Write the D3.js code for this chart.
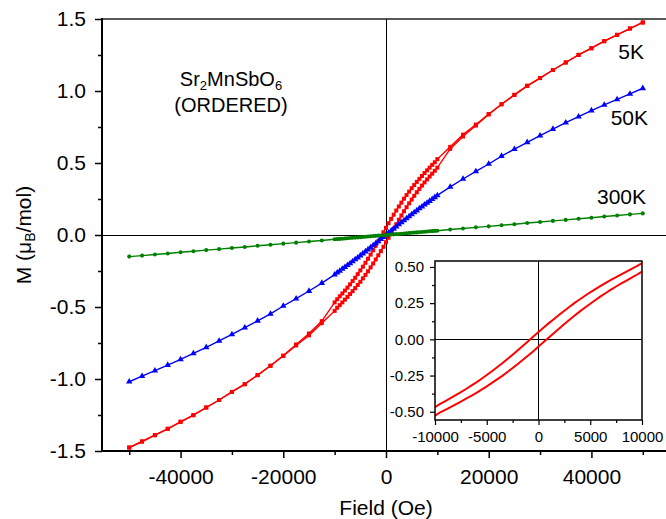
<!DOCTYPE html>
<html>
<head>
<meta charset="utf-8">
<script src="https://cdn.jsdelivr.net/npm/d3@7"></script>
<style>
  body { margin: 0; background: white; }
  text { font-family: "Liberation Sans", Arial, sans-serif; fill: black; }
</style>
</head>
<body>
<div id="chart"></div>
<script>
// Field values (Oe), shared by all curves
const field = [-50000, -47500, -45000, -42500, -40000, -37500, -35000, -32500, -30000, -27500, -25000, -22500, -20000, -17500, -15000, -12500, -10000,
  -9500, -9000, -8500, -8000, -7500, -7000, -6500, -6000, -5500, -5000, -4500, -4000, -3500, -3000, -2500, -2000, -1500, -1000, -500, 0,
  500, 1000, 1500, 2000, 2500, 3000, 3500, 4000, 4500, 5000, 5500, 6000, 6500, 7000, 7500, 8000, 8500, 9000, 9500,
  10000, 12500, 15000, 17500, 20000, 22500, 25000, 27500, 30000, 32500, 35000, 37500, 40000, 42500, 45000, 47500, 50000];

// 5K loop, branch coming down from +50 kOe
const m5Kdown = [-1.476, -1.434, -1.390, -1.346, -1.297, -1.251, -1.198, -1.146, -1.090, -1.036, -0.973, -0.908, -0.837, -0.760, -0.684, -0.598, -0.468,
  -0.446, -0.426, -0.406, -0.386, -0.365, -0.343, -0.320, -0.297, -0.272, -0.246, -0.220, -0.193, -0.165, -0.136, -0.106, -0.075, -0.044, -0.013, 0.019, 0.050,
  0.082, 0.112, 0.141, 0.170, 0.198, 0.225, 0.252, 0.277, 0.301, 0.325, 0.347, 0.369, 0.390, 0.410, 0.430, 0.449, 0.468, 0.487, 0.505,
  0.527, 0.612, 0.697, 0.767, 0.840, 0.908, 0.973, 1.036, 1.090, 1.146, 1.198, 1.251, 1.297, 1.346, 1.390, 1.434, 1.476];

// 5K loop, branch going up from -50 kOe
const m5Kup = [-1.476, -1.434, -1.390, -1.346, -1.297, -1.251, -1.198, -1.146, -1.090, -1.036, -0.973, -0.908, -0.840, -0.767, -0.697, -0.612, -0.527,
  -0.505, -0.487, -0.468, -0.449, -0.430, -0.410, -0.390, -0.369, -0.347, -0.325, -0.301, -0.277, -0.252, -0.225, -0.198, -0.170, -0.141, -0.112, -0.082, -0.050,
  -0.019, 0.013, 0.044, 0.075, 0.106, 0.136, 0.165, 0.193, 0.220, 0.246, 0.272, 0.297, 0.320, 0.343, 0.365, 0.386, 0.406, 0.426, 0.446,
  0.468, 0.598, 0.684, 0.760, 0.837, 0.908, 0.973, 1.036, 1.090, 1.146, 1.198, 1.251, 1.297, 1.346, 1.390, 1.434, 1.476];

const m50K = [-1.019, -0.980, -0.942, -0.903, -0.864, -0.822, -0.780, -0.736, -0.690, -0.644, -0.596, -0.548, -0.493, -0.442, -0.389, -0.334, -0.275,
  -0.262, -0.249, -0.236, -0.223, -0.210, -0.197, -0.184, -0.170, -0.157, -0.143, -0.129, -0.115, -0.101, -0.087, -0.073, -0.058, -0.044, -0.029, -0.015, 0.000,
  0.015, 0.029, 0.044, 0.058, 0.073, 0.087, 0.101, 0.115, 0.129, 0.143, 0.157, 0.170, 0.184, 0.197, 0.210, 0.223, 0.236, 0.249, 0.262,
  0.275, 0.334, 0.389, 0.442, 0.493, 0.548, 0.596, 0.644, 0.690, 0.736, 0.780, 0.822, 0.864, 0.903, 0.942, 0.980, 1.019];

const m300K = [-0.150, -0.143, -0.135, -0.128, -0.120, -0.113, -0.105, -0.098, -0.090, -0.083, -0.075, -0.068, -0.060, -0.053, -0.045, -0.038, -0.030,
  -0.0285, -0.027, -0.0255, -0.024, -0.0225, -0.021, -0.0195, -0.018, -0.0165, -0.015, -0.0135, -0.012, -0.0105, -0.009, -0.0075, -0.006, -0.0045, -0.003, -0.0015, 0,
  0.0015, 0.003, 0.0045, 0.006, 0.0075, 0.009, 0.0105, 0.012, 0.0135, 0.015, 0.0165, 0.018, 0.0195, 0.021, 0.0225, 0.024, 0.0255, 0.027, 0.0285,
  0.030, 0.038, 0.045, 0.053, 0.060, 0.068, 0.075, 0.083, 0.090, 0.098, 0.105, 0.113, 0.120, 0.128, 0.135, 0.143, 0.150];

// tick values
const xMajor = [-40000, -20000, 0, 20000, 40000];
const xMinor = [-50000, -30000, -10000, 10000, 30000, 50000];
const yMajor = [-1.5, -1.0, -0.5, 0.0, 0.5, 1.0, 1.5];
const yMinor = [-1.25, -0.75, -0.25, 0.25, 0.75, 1.25];
const inXMajor = [-10000, -5000, 0, 5000, 10000];
const inXMinor = [-7500, -2500, 2500, 7500];
const inYMajor = [-0.5, -0.25, 0, 0.25, 0.5];
const inYMinor = [-0.375, -0.125, 0.125, 0.375];

let width = 666, height = 519;

let svg = d3.select('#chart')
  .append('svg')
  .attr('width', width)
  .attr('height', height);

// main scales
let xScale = d3.scaleLinear()
  .domain([-55300, 55300])
  .range([102, 670]);

let yScale = d3.scaleLinear()
  .domain([-1.5, 1.5])
  .range([451, 19]);

// series description
const series = [
  { m: m5Kdown, color: '#ff0000', symbol: d3.symbolSquare, size: 16 },
  { m: m5Kup, color: '#ff0000', symbol: d3.symbolSquare, size: 16 },
  { m: m50K, color: '#0000ff', symbol: d3.symbolTriangle, size: 18 },
  { m: m300K, color: '#008000', symbol: d3.symbolCircle, size: 13 }
];

// zero lines
svg.append('line')
  .attr('x1', xScale.range()[0]).attr('x2', xScale.range()[1])
  .attr('y1', yScale(0)).attr('y2', yScale(0))
  .attr('stroke', 'black').attr('stroke-width', 1)
  .attr('shape-rendering', 'crispEdges');

svg.append('line')
  .attr('x1', xScale(0)).attr('x2', xScale(0))
  .attr('y1', yScale.range()[0]).attr('y2', yScale.range()[1])
  .attr('stroke', 'black').attr('stroke-width', 1)
  .attr('shape-rendering', 'crispEdges');

// curves with markers
let line = d3.line()
  .x(d => xScale(d[0]))
  .y(d => yScale(d[1]));

series.forEach(s => {
  let pts = field.map((h, i) => [h, s.m[i]]);
  svg.append('path')
    .datum(pts)
    .attr('d', line)
    .attr('fill', 'none')
    .attr('stroke', s.color)
    .attr('stroke-width', 1.4);

  svg.append('g')
    .selectAll('path')
    .data(pts)
    .enter()
    .append('path')
    .attr('transform', d => `translate(${xScale(d[0])},${yScale(d[1])})`)
    .attr('d', d3.symbol().type(s.symbol).size(s.size))
    .attr('fill', s.color);
});

// frame
svg.append('rect')
  .attr('x', 102).attr('y', 19)
  .attr('width', 568).attr('height', 432)
  .attr('fill', 'none')
  .attr('stroke', '#222')
  .attr('stroke-width', 1.5);

svg.append('line')
  .attr('x1', 102).attr('x2', 102).attr('y1', 18).attr('y2', 452)
  .attr('stroke', 'black').attr('stroke-width', 2);
svg.append('line')
  .attr('x1', 101).attr('x2', 670).attr('y1', 451).attr('y2', 451)
  .attr('stroke', 'black').attr('stroke-width', 2);

// axes
let xAxis = svg.append('g')
  .attr('transform', 'translate(0,451)')
  .call(d3.axisBottom(xScale).tickValues(xMajor).tickSize(7).tickPadding(11).tickFormat(d => String(d)));
let xAxisMinor = svg.append('g')
  .attr('transform', 'translate(0,451)')
  .call(d3.axisBottom(xScale).tickValues(xMinor).tickSize(4).tickFormat(''));

let yAxis = svg.append('g')
  .attr('transform', 'translate(102,0)')
  .call(d3.axisLeft(yScale).tickValues(yMajor).tickSize(7).tickPadding(9).tickFormat(d => d.toFixed(1)));
let yAxisMinor = svg.append('g')
  .attr('transform', 'translate(102,0)')
  .call(d3.axisLeft(yScale).tickValues(yMinor).tickSize(4).tickFormat(''));

[xAxis, xAxisMinor, yAxis, yAxisMinor].forEach(a => {
  a.select('.domain').remove();
  a.selectAll('line').attr('stroke-width', 1.5);
  a.selectAll('text').style('font-size', '21px').style('font-family', '"Liberation Sans", Arial, sans-serif');
});

// axis titles
svg.append('text')
  .attr('x', xScale(0))
  .attr('y', 515)
  .style('text-anchor', 'middle')
  .style('font-size', '21px')
  .text('Field (Oe)');

let yLabel = svg.append('text')
  .attr('transform', 'translate(31,235) rotate(-90)')
  .style('text-anchor', 'middle')
  .style('font-size', '21px');
yLabel.append('tspan').text('M (\u03bc');
yLabel.append('tspan').attr('baseline-shift', '-4').style('font-size', '14px').text('B');
yLabel.append('tspan').text('/mol)');

// compound name
let title = svg.append('text')
  .attr('x', 231).attr('y', 86)
  .style('text-anchor', 'middle')
  .style('font-size', '20px');
title.append('tspan').text('Sr');
title.append('tspan').attr('baseline-shift', '-4').style('font-size', '13px').text('2');
title.append('tspan').text('MnSbO');
title.append('tspan').attr('baseline-shift', '-4').style('font-size', '13px').text('6');

svg.append('text')
  .attr('x', 231).attr('y', 112)
  .style('text-anchor', 'middle')
  .style('font-size', '20px')
  .text('(ORDERED)');

// curve labels
const curveLabels = [
  { t: '5K', x: 644, y: 59 },
  { t: '50K', x: 648, y: 125 },
  { t: '300K', x: 646, y: 204 }
];
svg.selectAll('.clabel')
  .data(curveLabels)
  .enter()
  .append('text')
  .attr('class', 'clabel')
  .attr('x', d => d.x)
  .attr('y', d => d.y)
  .style('text-anchor', 'end')
  .style('font-size', '21px')
  .text(d => d.t);

// ---- inset ----
let ix = d3.scaleLinear().domain([-10000, 10000]).range([435, 642]);
let iy = d3.scaleLinear().domain([-0.557, 0.541]).range([420, 261]);

svg.append('rect')
  .attr('x', 435).attr('y', 261)
  .attr('width', 207).attr('height', 159)
  .attr('fill', 'white');

svg.append('clipPath').attr('id', 'insetClip')
  .append('rect')
  .attr('x', 435).attr('y', 261)
  .attr('width', 207).attr('height', 159);

svg.append('line')
  .attr('x1', 435).attr('x2', 642)
  .attr('y1', iy(0)).attr('y2', iy(0))
  .attr('stroke', 'black').attr('stroke-width', 1)
  .attr('shape-rendering', 'crispEdges');
svg.append('line')
  .attr('x1', ix(0)).attr('x2', ix(0))
  .attr('y1', 261).attr('y2', 420)
  .attr('stroke', 'black').attr('stroke-width', 1)
  .attr('shape-rendering', 'crispEdges');

let insetLine = d3.line()
  .x(d => ix(d[0]))
  .y(d => iy(d[1]));

[m5Kdown, m5Kup].forEach(m => {
  let pts = field.map((h, i) => [h, m[i]]).filter(d => Math.abs(d[0]) <= 12500);
  svg.append('path')
    .datum(pts)
    .attr('d', insetLine)
    .attr('clip-path', 'url(#insetClip)')
    .attr('fill', 'none')
    .attr('stroke', '#ff0000')
    .attr('stroke-width', 2);
});

svg.append('rect')
  .attr('x', 435).attr('y', 261)
  .attr('width', 207).attr('height', 159)
  .attr('fill', 'none')
  .attr('stroke', 'black')
  .attr('stroke-width', 1.5);

let ixAxis = svg.append('g')
  .attr('transform', 'translate(0,420)')
  .call(d3.axisBottom(ix).tickValues(inXMajor).tickSize(5).tickPadding(6).tickFormat(d => String(d)));
let ixAxisMinor = svg.append('g')
  .attr('transform', 'translate(0,420)')
  .call(d3.axisBottom(ix).tickValues(inXMinor).tickSize(3).tickFormat(''));
let iyAxis = svg.append('g')
  .attr('transform', 'translate(435,0)')
  .call(d3.axisLeft(iy).tickValues(inYMajor).tickSize(5).tickPadding(6).tickFormat(d => d.toFixed(2)));
let iyAxisMinor = svg.append('g')
  .attr('transform', 'translate(435,0)')
  .call(d3.axisLeft(iy).tickValues(inYMinor).tickSize(3).tickFormat(''));

[ixAxis, ixAxisMinor, iyAxis, iyAxisMinor].forEach(a => {
  a.select('.domain').remove();
  a.selectAll('line').attr('stroke-width', 1.2);
  a.selectAll('text').style('font-size', '15px').style('font-family', '"Liberation Sans", Arial, sans-serif');
});
</script>
</body>
</html>
